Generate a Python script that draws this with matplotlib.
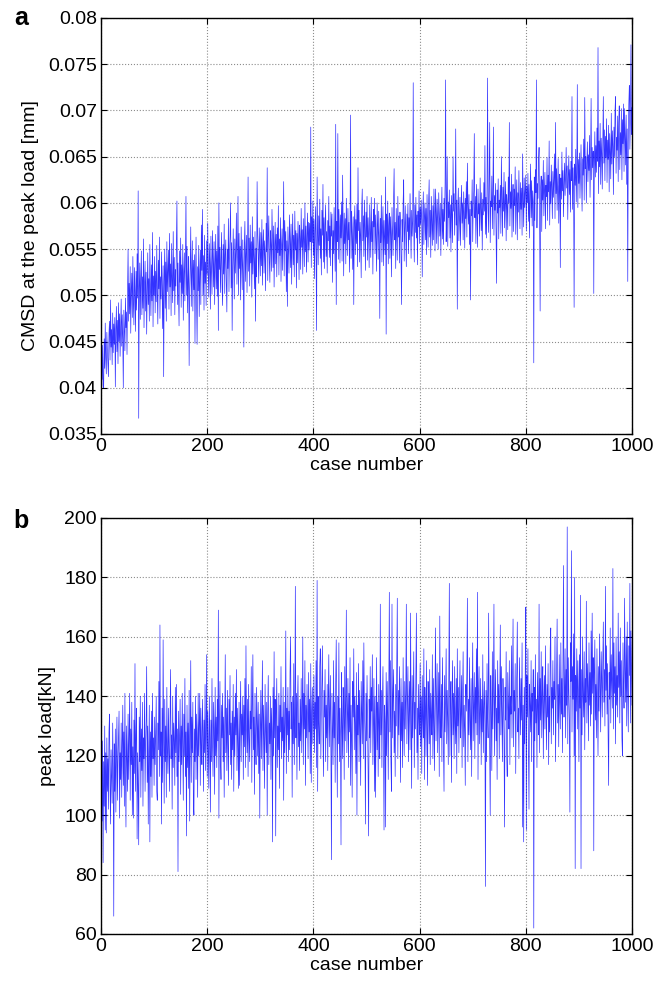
import numpy as np
import matplotlib
matplotlib.use("Agg")
import matplotlib.pyplot as plt

plt.rcParams['font.family'] = ['Liberation Sans', 'DejaVu Sans']

# CMSD at the peak load, in micrometres (plotted in mm)
cmsd_um = [
42.8, 40.9, 44.6, 40.2, 40.0, 45.3, 42.1, 47.0, 43.2, 41.5, 46.0, 44.1, 42.6, 41.2, 45.8, 47.2, 43.0, 49.5, 44.4, 46.3, 42.5, 48.1, 43.8, 46.9, 44.7,
47.6, 40.1, 46.2, 48.8, 43.9, 47.3, 42.6, 49.2, 45.0, 48.0, 43.4, 46.8, 49.6, 44.5, 47.9, 45.2, 40.0, 48.4, 46.1, 44.0, 49.7, 46.5, 48.2, 43.6, 50.4,
55.0, 47.2, 51.3, 48.0, 53.1, 45.9, 50.6, 52.4, 47.6, 54.2, 49.1, 46.8, 53.0, 50.3, 46.1, 52.6, 48.4, 54.5, 49.7, 61.3, 36.7, 50.8, 53.5, 47.4, 51.9,
54.8, 47.9, 52.0, 48.6, 56.1, 46.5, 51.2, 53.7, 48.3, 52.5, 45.8, 50.4, 54.6, 49.0, 51.8, 47.2, 55.5, 50.9, 47.8, 53.3, 49.4, 56.8, 46.6, 52.1, 50.0,
54.2, 48.1, 52.6, 49.3, 55.4, 50.2, 46.9, 53.8, 50.7, 56.3, 47.5, 52.0, 49.6, 54.7, 51.1, 46.4, 53.2, 41.2, 51.5, 55.0, 48.6, 53.6, 47.2, 55.8, 50.4,
52.7, 54.9, 48.5, 56.7, 50.9, 53.4, 47.8, 55.6, 51.6, 49.2, 56.9, 50.5, 54.1, 47.9, 52.8, 51.0, 55.7, 60.2, 49.0, 53.5, 50.1, 46.7, 54.8, 51.4, 56.2,
48.7, 53.3, 50.2, 55.5, 47.3, 52.4, 54.6, 49.4, 53.9, 60.7, 50.0, 55.3, 48.1, 51.9, 54.2, 42.4, 50.8, 53.0, 57.4, 48.8, 52.5, 55.9, 48.3, 53.8, 50.6,
54.4, 44.8, 52.2, 56.3, 49.3, 44.7, 53.1, 50.5, 55.4, 47.7, 52.0, 54.9, 49.0, 57.6, 52.7, 59.3, 50.0, 54.3, 48.4, 56.5, 51.3, 53.6, 48.9, 55.9, 52.3,
57.8, 52.1, 49.8, 55.6, 53.4, 48.5, 56.4, 52.6, 50.1, 57.0, 54.2, 50.9, 55.8, 49.0, 53.3, 56.6, 50.7, 54.8, 49.9, 57.5, 46.2, 60.0, 52.8, 55.2, 50.3,
53.9, 56.8, 51.0, 48.9, 55.5, 52.3, 57.7, 50.2, 54.4, 56.0, 51.4, 48.2, 55.0, 52.9, 58.3, 50.4, 54.6, 56.4, 60.0, 50.8, 55.7, 46.2, 53.1, 57.2, 53.6,
49.6, 56.1, 52.4, 54.9, 58.9, 51.2, 54.3, 60.7, 50.0, 56.7, 52.9, 55.3, 49.5, 57.4, 53.9, 50.6, 56.0, 52.5, 44.4, 55.6, 58.0, 51.5, 54.5, 56.5, 50.3,
55.0, 62.8, 52.6, 56.2, 51.0, 57.6, 53.5, 55.8, 49.8, 58.5, 52.3, 56.3, 54.0, 50.7, 56.9, 47.2, 55.1, 52.0, 62.3, 56.6, 54.4, 51.3, 57.3, 55.2, 52.1,
56.8, 53.2, 58.2, 51.1, 55.4, 57.1, 52.4, 55.9, 54.2, 50.5, 57.8, 54.7, 63.8, 51.6, 56.3, 58.6, 53.7, 51.4, 57.0, 55.5, 52.6, 59.3, 56.0, 53.0, 57.5,
50.9, 55.2, 57.9, 53.4, 56.6, 52.0, 57.3, 54.6, 59.7, 52.2, 56.1, 54.3, 58.4, 51.5, 55.4, 57.2, 52.7, 56.5, 62.3, 52.1, 58.1, 54.8, 56.9, 50.4, 55.9,
48.8, 57.4, 55.1, 52.4, 58.7, 56.2, 53.0, 57.7, 51.2, 55.8, 58.8, 53.3, 56.5, 52.0, 59.1, 54.9, 57.0, 50.8, 56.7, 53.5, 58.0, 55.6, 51.7, 57.6, 56.1,
52.8, 59.4, 55.2, 57.1, 52.3, 58.3, 56.0, 53.1, 60.0, 54.7, 57.5, 52.5, 56.4, 58.9, 53.6, 57.9, 54.9, 57.8, 55.8, 68.2, 53.0, 58.5, 55.7, 60.2, 54.3,
58.2, 51.8, 56.8, 59.6, 54.5, 46.2, 62.8, 56.7, 53.3, 58.6, 55.4, 60.4, 54.0, 57.2, 52.2, 59.2, 56.5, 62.0, 53.6, 58.4, 52.9, 57.6, 59.8, 54.2, 56.9,
52.4, 58.1, 55.9, 60.7, 54.1, 57.5, 53.2, 59.0, 56.4, 58.8, 51.4, 57.0, 54.5, 59.5, 56.1, 52.6, 68.5, 49.0, 58.0, 55.8, 67.5, 53.9, 59.3, 57.3, 53.5,
58.7, 56.2, 60.1, 53.7, 63.0, 57.1, 52.1, 58.9, 55.6, 58.3, 53.4, 60.5, 56.8, 54.3, 59.4, 56.0, 57.9, 52.5, 57.4, 69.5, 54.0, 59.1, 56.6, 52.8, 58.5,
49.0, 57.8, 59.7, 54.4, 58.2, 55.6, 59.9, 53.1, 63.8, 57.0, 59.2, 53.6, 57.9, 56.5, 51.9, 59.5, 61.5, 55.9, 58.6, 54.2, 60.3, 57.2, 52.7, 59.0, 56.3,
60.7, 53.8, 58.4, 56.6, 53.0, 59.8, 56.9, 54.1, 60.6, 55.8, 58.0, 52.3, 59.3, 57.4, 60.5, 54.5, 58.7, 56.0, 52.6, 60.0, 57.6, 53.9, 59.1, 56.4, 47.5,
58.3, 55.7, 60.8, 53.6, 57.3, 59.6, 53.2, 58.1, 56.2, 54.4, 62.8, 45.8, 58.8, 55.6, 60.2, 53.4, 57.5, 58.9, 54.0, 58.5, 56.6, 52.0, 59.5, 57.1, 54.3,
60.4, 63.7, 56.0, 57.9, 52.9, 59.4, 56.8, 53.8, 60.7, 56.3, 58.6, 53.5, 59.0, 57.7, 54.2, 49.0, 58.2, 55.8, 60.1, 62.5, 53.7, 57.2, 59.7, 56.5, 53.1,
58.8, 56.9, 59.9, 54.5, 58.4, 56.0, 61.0, 57.5, 54.0, 59.2, 56.4, 58.0, 73.0, 57.3, 53.6, 59.8, 56.8, 60.6, 56.2, 58.7, 53.3, 59.1, 57.4, 61.3, 55.6,
59.5, 57.7, 60.3, 58.1, 52.0, 58.9, 61.2, 55.5, 58.5, 60.0, 56.0, 59.4, 54.4, 60.9, 57.8, 55.2, 60.2, 62.5, 56.3, 59.2, 54.1, 60.7, 58.3, 55.4, 59.7,
56.0, 61.5, 58.6, 54.8, 61.5, 59.0, 55.6, 60.4, 58.2, 55.0, 61.1, 58.9, 56.4, 59.9, 54.3, 58.8, 61.7, 56.1, 59.3, 55.5, 60.5, 58.0, 62.1, 73.3, 55.8,
59.6, 65.0, 55.3, 60.1, 58.4, 61.4, 56.2, 59.8, 54.7, 60.8, 58.7, 55.7, 65.0, 59.1, 61.0, 56.5, 59.4, 68.0, 57.6, 60.3, 48.5, 59.5, 61.6, 55.9, 58.5,
60.6, 55.4, 59.2, 61.9, 57.8, 60.0, 56.0, 61.2, 58.9, 55.1, 60.5, 58.3, 62.3, 56.3, 64.3, 59.7, 57.7, 60.9, 55.5, 59.3, 49.5, 60.2, 58.6, 62.5, 55.8,
59.8, 61.3, 67.5, 58.4, 60.7, 55.6, 62.0, 59.0, 55.2, 61.5, 58.8, 59.9, 56.4, 62.7, 59.4, 57.0, 61.1, 54.9, 60.4, 58.7, 62.2, 59.1, 66.2, 56.6, 60.6,
56.2, 61.8, 73.5, 59.3, 56.8, 62.4, 68.7, 55.7, 60.2, 59.6, 62.9, 57.2, 61.0, 68.2, 56.5, 60.8, 59.2, 62.1, 57.0, 51.3, 61.4, 58.9, 62.6, 56.1, 60.3,
59.5, 61.9, 56.7, 65.0, 60.5, 56.4, 61.7, 59.1, 63.3, 57.3, 60.1, 62.3, 55.9, 60.9, 59.8, 57.1, 62.8, 60.0, 68.7, 57.5, 61.2, 59.4, 63.1, 56.3, 60.7,
62.0, 56.9, 61.5, 59.7, 63.9, 56.6, 60.4, 62.5, 56.0, 61.1, 59.0, 63.5, 59.9, 57.2, 62.2, 59.3, 61.6, 56.5, 65.3, 60.2, 57.4, 62.7, 59.5, 61.3, 63.0,
57.0, 61.8, 60.0, 63.2, 58.0, 62.0, 56.2, 60.9, 64.2, 58.4, 62.4, 57.5, 61.3, 60.1, 42.7, 62.8, 58.1, 63.6, 61.1, 73.3, 57.3, 62.1, 60.5, 64.4, 66.0,
58.0, 48.3, 61.7, 62.9, 56.9, 62.5, 60.3, 64.6, 58.6, 61.4, 63.3, 57.2, 61.9, 60.7, 64.9, 58.1, 63.0, 61.2, 66.7, 57.6, 62.3, 59.9, 64.1, 61.5, 58.3,
63.4, 60.6, 62.6, 65.3, 58.3, 68.7, 61.0, 63.7, 59.2, 62.0, 64.8, 57.8, 61.8, 63.1, 53.0, 62.7, 60.4, 65.5, 61.3, 63.5, 58.5, 62.2, 64.3, 60.8, 62.9,
66.0, 61.6, 64.0, 58.2, 62.8, 65.1, 60.9, 63.6, 59.0, 64.5, 62.4, 71.5, 59.3, 63.8, 61.4, 48.7, 64.2, 61.9, 65.8, 60.1, 63.3, 72.8, 59.5, 64.7, 62.1,
65.4, 60.5, 63.2, 66.3, 62.6, 59.1, 64.8, 63.0, 66.9, 60.3, 71.4, 63.7, 65.0, 60.0, 64.4, 66.6, 62.3, 65.2, 63.5, 67.3, 60.6, 64.6, 71.3, 62.5, 66.0,
63.8, 65.6, 50.2, 64.1, 67.7, 62.8, 66.2, 63.3, 68.1, 64.5, 76.8, 61.0, 66.7, 63.9, 68.6, 62.0, 67.0, 65.3, 61.5, 66.5, 71.5, 64.3, 67.9, 62.4, 67.2,
64.9, 69.1, 62.2, 66.8, 64.7, 68.4, 61.2, 67.5, 65.5, 62.6, 69.7, 64.2, 67.8, 66.1, 60.9, 68.2, 65.0, 69.9, 71.5, 63.2, 67.1, 65.7, 69.4, 62.3, 68.7,
70.5, 63.6, 67.6, 65.2, 70.2, 62.5, 69.0, 66.4, 70.7, 63.4, 70.2, 67.3, 64.1, 69.5, 62.0, 68.0, 51.5, 66.6, 70.7, 72.7, 65.8, 68.9, 77.1, 67.4, 70.3,
]

# Peak load in kN
peak_kN = [
112, 98, 125, 84, 118, 103, 130, 95, 121, 94, 126, 108, 119, 102, 128, 134, 110, 97, 122, 113, 104, 131, 116, 66, 124,
108, 129, 101, 120, 133, 105, 118, 126, 135, 99, 121, 112, 131, 106, 124, 137, 110, 128, 103, 141, 115, 96, 130, 119, 108,
134, 112, 126, 141, 105, 129, 117, 138, 100, 123, 99, 132, 114, 151, 108, 127, 136, 92, 121, 110, 90, 133, 118, 140, 106,
129, 115, 138, 103, 126, 119, 141, 108, 124, 132, 150, 111, 130, 97, 121, 137, 91, 128, 113, 135, 106, 141, 119, 126, 110,
133, 117, 127, 140, 108, 105, 131, 122, 145, 113, 164, 120, 128, 97, 136, 111, 159, 125, 104, 139, 118, 130, 106, 143, 121,
114, 136, 123, 108, 132, 149, 119, 127, 102, 140, 116, 131, 125, 110, 143, 121, 144, 113, 129, 81, 135, 118, 126, 139, 107,
130, 117, 141, 122, 105, 134, 120, 146, 113, 128, 93, 137, 116, 131, 109, 142, 98, 124, 152, 111, 133, 121, 138, 104, 100,
129, 118, 140, 112, 134, 125, 106, 141, 120, 131, 141, 110, 136, 123, 117, 139, 128, 108, 132, 121, 144, 115, 127, 154, 113,
135, 122, 109, 140, 126, 101, 132, 118, 146, 124, 113, 138, 129, 107, 143, 120, 133, 116, 139, 125, 169, 99, 131, 145, 119,
112, 137, 126, 141, 118, 133, 106, 128, 154, 121, 136, 115, 142, 124, 110, 139, 127, 147, 117, 131, 112, 135, 122, 144, 108,
133, 120, 141, 127, 149, 115, 136, 124, 109, 138, 110, 131, 145, 118, 134, 127, 140, 112, 137, 123, 146, 116, 157, 130, 121,
139, 113, 144, 126, 118, 135, 129, 150, 111, 137, 154, 122, 133, 107, 141, 125, 117, 143, 131, 120, 138, 114, 134, 99, 128,
142, 119, 133, 152, 115, 137, 126, 109, 144, 129, 121, 138, 100, 135, 147, 117, 131, 124, 140, 112, 136, 128, 91, 143, 120,
155, 126, 139, 93, 134, 146, 116, 130, 122, 141, 109, 137, 128, 150, 119, 133, 125, 143, 105, 138, 121, 131, 162, 114, 136,
127, 143, 118, 135, 122, 148, 160, 129, 138, 106, 140, 124, 151, 117, 134, 177, 126, 141, 112, 137, 147, 123, 131, 115, 139,
125, 146, 121, 134, 160, 117, 141, 129, 152, 110, 137, 126, 144, 132, 119, 148, 128, 139, 114, 151, 111, 135, 143, 124, 131,
147, 121, 138, 129, 152, 116, 179, 108, 140, 131, 124, 150, 156, 119, 136, 145, 157, 127, 113, 142, 133, 149, 118, 137, 126,
144, 115, 139, 154, 123, 135, 147, 120, 85, 141, 130, 117, 152, 126, 138, 111, 145, 159, 133, 106, 140, 124, 158, 118, 136,
127, 90, 148, 131, 119, 143, 136, 112, 150, 125, 139, 169, 121, 134, 146, 116, 141, 128, 153, 110, 137, 126, 106, 145, 133,
156, 122, 140, 131, 114, 148, 100, 137, 127, 151, 118, 142, 129, 110, 145, 134, 124, 152, 119, 158, 136, 128, 97, 141, 125,
147, 132, 115, 93, 139, 126, 150, 121, 143, 135, 154, 117, 131, 146, 108, 140, 106, 129, 153, 122, 138, 113, 144, 130, 119,
171, 127, 142, 116, 139, 150, 124, 95, 137, 131, 96, 148, 120, 145, 133, 112, 141, 175, 128, 152, 118, 108, 171, 126, 140,
149, 121, 135, 113, 144, 130, 154, 173, 119, 142, 127, 150, 137, 111, 146, 125, 138, 116, 153, 132, 120, 145, 129, 141, 171,
124, 139, 150, 118, 134, 145, 122, 168, 131, 109, 147, 126, 140, 155, 116, 138, 129, 148, 168, 121, 136, 112, 144, 133, 127,
151, 123, 140, 114, 147, 132, 126, 156, 112, 143, 135, 120, 152, 129, 110, 145, 138, 124, 149, 117, 141, 133, 127, 154, 119,
146, 130, 115, 142, 163, 125, 139, 151, 121, 136, 148, 113, 167, 131, 126, 144, 118, 153, 135, 122, 108, 147, 128, 140, 156,
124, 142, 133, 117, 149, 178, 120, 138, 145, 111, 136, 152, 127, 141, 119, 150, 131, 124, 146, 114, 156, 130, 143, 121, 139,
152, 126, 134, 147, 116, 141, 155, 123, 137, 129, 110, 144, 135, 149, 173, 118, 139, 127, 153, 132, 122, 146, 113, 140, 158,
125, 137, 148, 119, 143, 131, 156, 127, 175, 112, 141, 150, 124, 135, 146, 117, 139, 128, 154, 121, 136, 145, 130, 76, 142,
118, 151, 134, 126, 168, 140, 122, 100, 147, 133, 115, 155, 129, 143, 171, 120, 138, 149, 125, 136, 112, 152, 131, 144, 119,
141, 164, 127, 150, 134, 118, 146, 138, 125, 96, 143, 132, 155, 121, 113, 148, 136, 129, 152, 117, 140, 134, 157, 126, 145,
166, 123, 142, 135, 151, 114, 139, 148, 165, 128, 136, 119, 153, 141, 127, 146, 132, 158, 96, 137, 91, 143, 124, 150, 170,
95, 147, 133, 156, 122, 102, 144, 137, 128, 152, 118, 141, 135, 149, 62, 143, 125, 154, 131, 139, 116, 148, 136, 127, 171,
121, 146, 132, 155, 126, 141, 150, 119, 138, 147, 129, 157, 135, 122, 144, 133, 151, 117, 140, 128, 156, 163, 124, 143, 136,
152, 127, 145, 139, 160, 118, 137, 148, 166, 131, 144, 123, 154, 138, 129, 158, 134, 146, 121, 150, 184, 133, 141, 156, 126,
149, 137, 197, 124, 153, 141, 132, 101, 158, 145, 189, 128, 150, 139, 161, 120, 180, 82, 147, 135, 156, 129, 152, 142, 118,
154, 136, 174, 82, 149, 127, 160, 140, 133, 155, 122, 146, 138, 172, 131, 151, 143, 125, 158, 137, 148, 130, 162, 134, 168,
141, 153, 88, 147, 159, 132, 144, 126, 156, 139, 120, 150, 135, 161, 143, 128, 155, 146, 133, 152, 165, 138, 149, 130, 177,
142, 157, 134, 151, 127, 110, 148, 139, 163, 131, 154, 145, 136, 183, 129, 158, 141, 150, 124, 160, 137, 147, 133, 168, 143,
155, 131, 163, 140, 152, 126, 120, 158, 144, 136, 173, 149, 138, 160, 130, 165, 142, 128, 157, 147, 178, 131, 162, 150, 137,
]

x_ticks = [0, 200, 400, 600, 800, 1000]
a_yticks = [0.035, 0.04, 0.045, 0.05, 0.055, 0.06, 0.065, 0.07, 0.075, 0.08]
b_yticks = [60, 80, 100, 120, 140, 160, 180, 200]

fig = plt.figure(figsize=(6.57, 9.85), dpi=100)
W, H = 657, 985
ax_a = fig.add_axes([101 / W, 1 - 434 / H, 531 / W, 416 / H])
ax_b = fig.add_axes([101 / W, 1 - 934 / H, 531 / W, 416 / H])

case_a = np.arange(1, len(cmsd_um) + 1)
case_b = np.arange(1, len(peak_kN) + 1)
ax_a.plot(case_a, np.array(cmsd_um) / 1000.0, color='#0000ff', lw=0.5, alpha=0.8)
ax_b.plot(case_b, np.array(peak_kN), color='#0000ff', lw=0.5, alpha=0.8)

fs = 14
for ax, yt, ylim, ylab in [
    (ax_a, a_yticks, (0.035, 0.08), 'CMSD at the peak load [mm]'),
    (ax_b, b_yticks, (60, 200), 'peak load[kN]'),
]:
    ax.set_xlim(0, 1000)
    ax.set_ylim(*ylim)
    ax.set_xticks(x_ticks)
    ax.set_xticklabels([f'{v:g}' for v in x_ticks])
    ax.set_yticks(yt)
    ax.set_yticklabels([f'{v:g}' for v in yt])
    ax.grid(True, linestyle=':', color='0.55', lw=0.8)
    ax.tick_params(direction='in', top=True, right=True, length=4,
                   labelsize=fs, pad=3)
    for s in ax.spines.values():
        s.set_linewidth(1.0)
    ax.set_xlabel('case number', fontsize=fs, labelpad=1)
    ax.set_ylabel(ylab, fontsize=fs, labelpad=6)

fig.text(21 / W, 1 - 18 / H, 'a', fontsize=18, fontweight='bold',
         ha='center', va='center')
fig.text(21 / W, 1 - 521 / H, 'b', fontsize=18, fontweight='bold',
         ha='center', va='center')

fig.savefig('out.png', dpi=100)
